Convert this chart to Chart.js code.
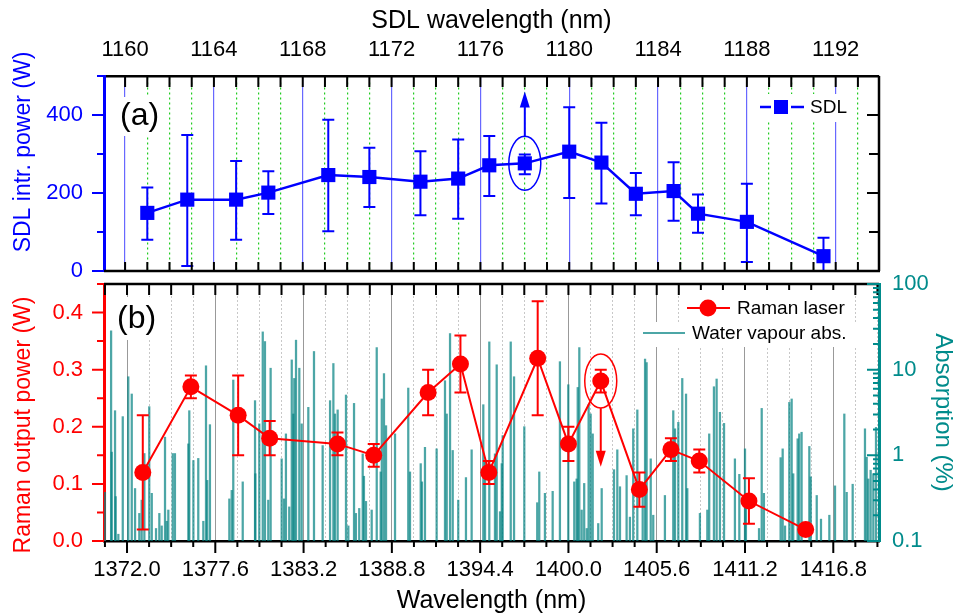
<!DOCTYPE html>
<html>
<head>
<meta charset="utf-8">
<title>SDL and Raman laser power vs wavelength</title>
<script src="https://cdn.jsdelivr.net/npm/chart.js@4.4.1/dist/chart.umd.min.js"></script>
<style>
  html, body { margin: 0; padding: 0; background: #fff; }
  #wrap { position: relative; width: 955px; height: 616px; overflow: hidden; }
  #wrap canvas { position: absolute; left: 0; }
  #sdlChart { top: 0; }
  #ramanChart { top: 250px; }
</style>
</head>
<body>
<div id="wrap">
  <canvas id="sdlChart" width="955" height="290"></canvas>
  <canvas id="ramanChart" width="955" height="366"></canvas>
</div>
<script>
// (a) SDL intracavity power vs SDL wavelength (nm, W)
const sdlWavelength = [1161.0, 1162.8, 1165.0, 1166.45, 1169.15, 1171.0, 1173.3, 1175.0, 1176.4,
                       1178.0, 1180.0, 1181.45, 1183.0, 1184.7, 1185.8, 1188.0, 1191.45];
const sdlPower   = [149, 183, 183, 201, 246, 241, 229, 237, 271, 276, 306, 278, 198, 205, 147, 126, 38];
const sdlErrHigh = [214, 349, 282, 256, 388, 316, 307, 337, 346, 299, 420, 380, 251, 279, 196, 224, 85];
const sdlErrLow  = [80, 13, 80, 146, 102, 164, 143, 134, 192, 248, 187, 173, 143, 129, 98, 23, 0];

// (b) Raman laser output power vs wavelength (nm, W)
const ramanWavelength = [1373.0, 1376.05, 1379.05, 1381.05, 1385.35, 1387.65, 1391.1, 1393.15, 1394.95,
                         1398.05, 1400.0, 1402.05, 1404.5, 1406.5, 1408.3, 1411.45, 1415.05];
const ramanPower   = [0.12, 0.27, 0.22, 0.18, 0.17, 0.15, 0.26, 0.31, 0.12, 0.32, 0.17, 0.28, 0.09, 0.16, 0.14, 0.07, 0.02];
const ramanErrHigh = [0.22, 0.29, 0.29, 0.21, 0.19, 0.17, 0.30, 0.36, 0.14, 0.42, 0.20, 0.30, 0.12, 0.18, 0.16, 0.11, 0.02];
const ramanErrLow  = [0.02, 0.25, 0.15, 0.15, 0.15, 0.13, 0.22, 0.26, 0.10, 0.22, 0.14, 0.26, 0.06, 0.14, 0.12, 0.03, 0.02];

// water vapour absorption lines (nm, %)
const waterWavelength = [
  1370.6, 1370.99, 1371.03, 1371.24, 1371.28, 1371.45, 1371.73, 1372.08, 1372.3, 1372.51, 1372.78, 1372.93,
  1373.1, 1373.41, 1373.57, 1373.84, 1374.05, 1374.2, 1374.41, 1374.52, 1374.62, 1374.9, 1375.04, 1375.89,
  1375.95, 1376.21, 1376.52, 1376.84, 1377.01, 1377.09, 1377.26, 1378.49, 1378.64, 1378.74, 1379.34, 1380.12,
  1380.14, 1380.39, 1380.61, 1380.75, 1380.96, 1381.11, 1381.81, 1381.96, 1382.08, 1382.29, 1382.45, 1382.55,
  1382.61, 1382.72, 1382.93, 1383.08, 1383.5, 1383.86, 1384.41, 1384.88, 1385.09, 1385.19, 1385.36, 1385.89,
  1386.04, 1386.4, 1386.52, 1386.73, 1386.95, 1387.03, 1387.16, 1387.52, 1387.84, 1388.09, 1388.16, 1388.3,
  1388.43, 1389.0, 1389.84, 1389.95, 1390.63, 1390.71, 1390.9, 1391.64, 1392.17, 1392.28, 1392.49, 1392.66,
  1393.01, 1393.5, 1393.86, 1394.6, 1394.71, 1394.98, 1395.34, 1395.45, 1395.66, 1395.77, 1395.83, 1396.34,
  1396.55, 1397.2, 1398.02, 1398.15, 1398.51, 1399.0, 1399.46, 1399.99, 1400.37, 1400.52, 1400.59, 1400.69,
  1400.84, 1401.0, 1401.16, 1401.28, 1401.41, 1401.54, 1401.89, 1402.11, 1402.89, 1403.1, 1403.27, 1403.69,
  1403.9, 1404.11, 1404.37, 1404.71, 1404.86, 1404.96, 1405.22, 1405.38, 1406.12, 1406.65, 1406.76, 1406.97,
  1407.22, 1407.46, 1407.54, 1408.34, 1408.81, 1408.93, 1409.23, 1409.4, 1409.61, 1409.87, 1410.56, 1410.84,
  1411.2, 1411.26, 1412.09, 1412.26, 1412.4, 1413.46, 1413.59, 1413.74, 1414.01, 1414.16, 1414.26, 1414.54,
  1414.64, 1414.79, 1415.28, 1415.37, 1415.75, 1416.02, 1416.55, 1416.91, 1417.5, 1417.65, 1418.03, 1418.81,
  1418.92, 1419.02, 1419.17, 1419.34, 1419.51
];
const waterAbs = [
  0.37, 28.4, 1.09, 3.32, 0.33, 0.12, 2.83, 8.27, 5.2, 0.41, 0.21, 0.30,
  1.05, 3.70, 0.36, 0.14, 0.21, 0.15, 1.63, 0.17, 0.23, 1.05, 1.05, 1.36,
  3.32, 0.87, 0.92, 0.17, 11.1, 0.51, 2.28, 0.31, 0.39, 7.57, 0.49, 4.35,
  0.61, 2.33, 27.6, 21.3, 0.30, 10.4, 0.91, 0.31, 1.78, 0.25, 13.0, 3.04,
  7.9, 22.1, 10.4, 2.33, 3.63, 16.3, 1.30, 4.35, 11.8, 3.04, 3.39, 5.06,
  0.15, 4.04, 0.21, 0.24, 1.04, 0.57, 0.29, 0.23, 18.1, 0.64, 4.55, 9.0,
  2.22, 1.78, 6.1, 0.64, 0.80, 0.49, 1.24, 1.19, 7.43, 3.04, 26.4, 1.14,
  0.30, 0.55, 1.16, 3.90, 0.87, 21.1, 1.04, 11.4, 0.22, 0.80, 1.70, 21.1,
  8.27, 2.16, 0.28, 0.64, 0.36, 0.38, 12.4, 6.67, 0.49, 0.53, 6.2, 18.1,
  0.23, 0.47, 0.14, 3.90, 3.04, 1.78, 0.16, 0.41, 0.68, 1.16, 0.43, 0.58,
  0.19, 2.04, 3.39, 0.34, 13.3, 12.1, 0.91, 0.20, 0.34, 3.32, 2.04, 2.43,
  7.9, 5.2, 0.41, 0.21, 0.23, 1.78, 6.32, 7.78, 3.18, 2.36, 0.91, 0.60,
  1.19, 0.36, 0.14, 3.53, 0.36, 0.94, 1.19, 0.15, 4.15, 4.55, 0.61, 1.56,
  1.78, 1.86, 1.27, 0.56, 0.34, 0.18, 0.20, 0.44, 3.04, 0.37, 0.46, 2.04,
  0.95, 0.53, 0.67, 0.61, 2.12
];

// tick labels
const sdlTickLabels = ['1160', '1164', '1168', '1172', '1176', '1180', '1184', '1188', '1192'];
const ramanTickLabels = ['1372.0', '1377.6', '1383.2', '1388.8', '1394.4', '1400.0', '1405.6', '1411.2', '1416.8'];
const sdlPowerTickLabels = ['0', '200', '400'];
const ramanPowerTickLabels = ['0.0', '0.1', '0.2', '0.3', '0.4'];
const absTickLabels = ['0.1', '1', '10', '100'];

// circled points and the values their arrows point to
const sdlMarked = { index: 9, arrowTo: 460 };
const ramanMarked = { index: 11, arrowTo: 0.13 };

const BLUE = '#0000ff';
const RED = '#ff0000';
const TEAL = '#008b8b';
const WATER = 'rgba(0,128,128,0.7)';
const FONT = "'Liberation Sans', Arial, sans-serif";

Chart.defaults.font.family = FONT;
Chart.defaults.color = '#000';
Chart.defaults.animation = false;

// minor tick positions (every 1 nm on top, every 1.4 nm on bottom)
const sdlXTicks = [];
for (let v = 1160; v <= 1193; v++) sdlXTicks.push(v);
const ramanXTicks = [];
for (let i = 0; i <= 35; i++) ramanXTicks.push(+(1370.6 + 1.4 * i).toFixed(1));
const sdlYTicks = [0, 100, 200, 300, 400, 500];
const ramanYTicks = [];
for (let i = 0; i <= 9; i++) ramanYTicks.push(+(0.05 * i).toFixed(2));
const absTicks = [];
[0.1, 1, 10].forEach(d => { for (let m = 1; m <= 9; m++) absTicks.push(+(m * d).toPrecision(3)); });
absTicks.push(100);

function findLabel(labels, value) {
    return labels.find(l => Math.abs(parseFloat(l) - value) < 1e-6);
}
function isMajor(labels) {
    return v => findLabel(labels, v) !== undefined;
}
function labelCallback(labels) {
    return value => findLabel(labels, value) || '';
}
function setTicks(values) {
    return scale => { scale.ticks = values.map(v => ({ value: v })); };
}
function fixSize(size) {
    return scale => {
        if (scale.isHorizontal()) scale.height = size; else scale.width = size;
        scale.paddingLeft = scale.paddingRight = scale.paddingTop = scale.paddingBottom = 0;
    };
}

/**
 * Draws tick marks along an edge of the plot area
 */
function drawTickMarks(ctx, scale, values, edge, dir, lenMajor, lenMinor, major, color) {
    ctx.save();
    ctx.strokeStyle = color;
    ctx.lineWidth = 2;
    ctx.beginPath();
    values.forEach(v => {
        const p = scale.getPixelForValue(v);
        const len = major(v) ? lenMajor : lenMinor;
        if (scale.isHorizontal()) {
            ctx.moveTo(p, edge);
            ctx.lineTo(p, edge + dir * len);
        } else {
            ctx.moveTo(edge, p);
            ctx.lineTo(edge + dir * len, p);
        }
    });
    ctx.stroke();
    ctx.restore();
}

function drawLine(ctx, x1, y1, x2, y2, color, width) {
    ctx.save();
    ctx.strokeStyle = color;
    ctx.lineWidth = width;
    ctx.beginPath();
    ctx.moveTo(x1, y1);
    ctx.lineTo(x2, y2);
    ctx.stroke();
    ctx.restore();
}

function whiteBox(ctx, x, y, w, h) {
    ctx.save();
    ctx.fillStyle = '#fff';
    ctx.fillRect(x, y, w, h);
    ctx.restore();
}

function drawText(ctx, text, x, y, size, color) {
    ctx.save();
    ctx.font = size + 'px ' + FONT;
    ctx.fillStyle = color;
    ctx.textAlign = 'left';
    ctx.textBaseline = 'middle';
    ctx.fillText(text, x, y);
    ctx.restore();
}

// axis title turned to read bottom-to-top
function drawYTitle(ctx, text, x, y, size, color) {
    ctx.save();
    ctx.translate(x, y);
    ctx.rotate(-Math.PI / 2);
    ctx.font = size + 'px ' + FONT;
    ctx.fillStyle = color;
    ctx.textAlign = 'center';
    ctx.textBaseline = 'middle';
    ctx.fillText(text, 0, 0);
    ctx.restore();
}

/**
 * Ellipse round a marked point plus an arrow to a value on the y scale
 */
function drawMarker(ctx, chart, marked, color) {
    const pt = chart.getDatasetMeta(0).data[marked.index];
    const yScale = chart.scales.y;
    const rx = 16, ry = 27;
    ctx.save();
    ctx.strokeStyle = color;
    ctx.fillStyle = color;
    ctx.lineWidth = 1.5;
    ctx.beginPath();
    ctx.ellipse(pt.x, pt.y, rx, ry, 0, 0, Math.PI * 2);
    ctx.stroke();
    const yTip = yScale.getPixelForValue(marked.arrowTo);
    const dir = yTip < pt.y ? -1 : 1;
    const yStart = pt.y + dir * ry;
    ctx.lineWidth = 2;
    ctx.beginPath();
    ctx.moveTo(pt.x, yStart);
    ctx.lineTo(pt.x, yTip - dir * 10);
    ctx.stroke();
    ctx.beginPath();
    ctx.moveTo(pt.x, yTip);
    ctx.lineTo(pt.x - 5, yTip - dir * 16);
    ctx.lineTo(pt.x + 5, yTip - dir * 16);
    ctx.closePath();
    ctx.fill();
    ctx.restore();
}

function errorBarsPlugin(low, high, color, datasetIndex) {
    return {
        id: 'errorBars',
        beforeDatasetDraw(chart, args) {
            if (args.index !== datasetIndex) return;
            const meta = chart.getDatasetMeta(datasetIndex);
            const yScale = chart.scales[meta.yAxisID];
            const ctx = chart.ctx;
            ctx.save();
            ctx.strokeStyle = color;
            ctx.lineWidth = 2;
            ctx.beginPath();
            meta.data.forEach((pt, i) => {
                const yl = yScale.getPixelForValue(low[i]);
                const yh = yScale.getPixelForValue(high[i]);
                if (Math.abs(yh - yl) < 1) return;
                ctx.moveTo(pt.x, yl);
                ctx.lineTo(pt.x, yh);
                ctx.moveTo(pt.x - 6, yl);
                ctx.lineTo(pt.x + 6, yl);
                ctx.moveTo(pt.x - 6, yh);
                ctx.lineTo(pt.x + 6, yh);
            });
            ctx.stroke();
            ctx.restore();
        }
    };
}

const sdlDecor = {
    id: 'sdlDecor',
    afterDraw(chart) {
        const { ctx, chartArea: a, scales } = chart;
        // frame
        drawLine(ctx, a.right, a.top, a.right, a.bottom, '#000', 2.5);
        drawLine(ctx, a.left, a.bottom, a.right + 1, a.bottom, '#000', 2.5);
        // ticks
        drawTickMarks(ctx, scales.x, sdlXTicks, a.top, 1, 11, 11, isMajor(sdlTickLabels), '#000');
        drawTickMarks(ctx, scales.x, sdlXTicks, a.bottom, -1, 9, 9, isMajor(sdlTickLabels), '#000');
        drawTickMarks(ctx, scales.y, sdlYTicks, a.left, -1, 12, 7, isMajor(sdlPowerTickLabels), BLUE);
        drawTickMarks(ctx, scales.y, sdlYTicks, a.right, -1, 12, 10, isMajor(sdlPowerTickLabels), '#000');
        drawYTitle(ctx, 'SDL intr. power (W)', 24, a.top + 76, 23, BLUE);
        // panel label
        whiteBox(ctx, a.left + 11, a.top + 21, 47, 39);
        drawText(ctx, '(a)', a.left + 16, a.top + 40, 32, '#000');
        // legend
        const ly = a.top + 31;
        whiteBox(ctx, a.right - 124, a.top + 18, 97, 28);
        drawLine(ctx, a.right - 119, ly, a.right - 108, ly, BLUE, 2.5);
        drawLine(ctx, a.right - 88, ly, a.right - 75, ly, BLUE, 2.5);
        ctx.save();
        ctx.fillStyle = BLUE;
        ctx.fillRect(a.right - 105, ly - 7, 14, 14);
        ctx.restore();
        drawText(ctx, 'SDL', a.right - 69, ly + 1, 19, '#000');
        drawMarker(ctx, chart, sdlMarked, BLUE);
    }
};

const ramanDecor = {
    id: 'ramanDecor',
    afterDraw(chart) {
        const { ctx, chartArea: a, scales } = chart;
        drawLine(ctx, a.left, a.top, a.right, a.top, '#000', 2.5);
        drawTickMarks(ctx, scales.x, ramanXTicks, a.top, 1, 11, 11, isMajor(ramanTickLabels), '#000');
        drawTickMarks(ctx, scales.x, ramanXTicks, a.bottom, 1, 12, 6, isMajor(ramanTickLabels), '#000');
        drawTickMarks(ctx, scales.y, ramanYTicks, a.left, -1, 12, 7, isMajor(ramanPowerTickLabels), RED);
        drawTickMarks(ctx, scales.yAbs, absTicks, a.right, -1, 12, 6, isMajor(absTickLabels), TEAL);
        drawYTitle(ctx, 'Raman output power (W)', 24, a.top + 141, 23, RED);
        // panel label
        whiteBox(ctx, a.left + 9, a.top + 13, 47, 43);
        drawText(ctx, '(b)', a.left + 13, a.top + 35, 32, '#000');
        // legend
        whiteBox(ctx, a.right - 197, a.top + 6, 172, 33);
        whiteBox(ctx, a.right - 241, a.top + 38, 223, 25);
        const y1 = a.top + 24, y2 = a.top + 49;
        drawLine(ctx, a.right - 192, y1, a.right - 149, y1, RED, 2);
        ctx.save();
        ctx.fillStyle = RED;
        ctx.beginPath();
        ctx.arc(a.right - 171, y1, 8.5, 0, Math.PI * 2);
        ctx.fill();
        ctx.restore();
        drawText(ctx, 'Raman laser', a.right - 142, y1 + 1, 19, '#000');
        drawLine(ctx, a.right - 236, y2, a.right - 194, y2, WATER, 2);
        drawText(ctx, 'Water vapour abs.', a.right - 187, y2 + 1, 19, '#000');
        drawMarker(ctx, chart, ramanMarked, RED);
    }
};

// top panel
new Chart(document.getElementById('sdlChart'), {
    type: 'line',
    data: {
        datasets: [{
            label: 'SDL',
            data: sdlWavelength.map((w, i) => ({ x: w, y: sdlPower[i] })),
            borderColor: BLUE,
            backgroundColor: BLUE,
            borderWidth: 2.5,
            pointStyle: 'rect',
            pointRadius: 10,
            pointBorderWidth: 0,
            tension: 0
        }]
    },
    options: {
        responsive: false,
        layout: { padding: { left: 0, top: 0, right: 76, bottom: 19 } },
        plugins: { legend: { display: false }, tooltip: { enabled: false } },
        scales: {
            x: {
                type: 'linear',
                position: 'top',
                min: 1159.05,
                max: 1193.95,
                afterBuildTicks: setTicks(sdlXTicks),
                afterFit: fixSize(76),
                ticks: {
                    autoSkip: false,
                    maxRotation: 0,
                    padding: 13,
                    font: { size: 22 },
                    callback: labelCallback(sdlTickLabels)
                },
                grid: {
                    drawTicks: false,
                    lineWidth: 1.2,
                    color: ctx => isMajor(sdlTickLabels)(ctx.tick.value) ? 'rgba(40,40,255,0.7)' : '#22cc22'
                },
                border: {
                    color: '#000',
                    width: 2.5,
                    dash: ctx => (ctx.tick && !isMajor(sdlTickLabels)(ctx.tick.value)) ? [2, 3] : []
                },
                title: {
                    display: true,
                    text: 'SDL wavelength (nm)',
                    font: { size: 25 },
                    padding: { top: 6, bottom: 0 }
                }
            },
            y: {
                min: 0,
                max: 500,
                afterBuildTicks: setTicks(sdlYTicks),
                afterFit: fixSize(104),
                ticks: {
                    autoSkip: false,
                    color: BLUE,
                    padding: 21,
                    font: { size: 22 },
                    callback: labelCallback(sdlPowerTickLabels)
                },
                grid: { display: false, drawTicks: false },
                border: { color: BLUE, width: 3 },
                title: { display: false }
            }
        }
    },
    plugins: [errorBarsPlugin(sdlErrLow, sdlErrHigh, BLUE, 0), sdlDecor]
});

// bottom panel
new Chart(document.getElementById('ramanChart'), {
    type: 'line',
    data: {
        datasets: [{
            type: 'line',
            label: 'Raman laser',
            data: ramanWavelength.map((w, i) => ({ x: w, y: ramanPower[i] })),
            yAxisID: 'y',
            borderColor: RED,
            backgroundColor: RED,
            borderWidth: 2,
            pointStyle: 'circle',
            pointRadius: 8.5,
            pointBorderWidth: 0,
            tension: 0,
            order: 0
        }, {
            type: 'bar',
            label: 'Water vapour abs.',
            data: waterWavelength.map((w, i) => ({ x: w, y: waterAbs[i] })),
            yAxisID: 'yAbs',
            backgroundColor: WATER,
            barThickness: 1.6,
            grouped: false,
            order: 1
        }]
    },
    options: {
        responsive: false,
        layout: { padding: { left: 0, top: 34, right: 0, bottom: 0 } },
        plugins: { legend: { display: false }, tooltip: { enabled: false } },
        scales: {
            x: {
                type: 'linear',
                position: 'bottom',
                min: 1370.54,
                max: 1419.7,
                offset: false,
                afterBuildTicks: setTicks(ramanXTicks),
                afterFit: fixSize(75),
                ticks: {
                    autoSkip: false,
                    maxRotation: 0,
                    padding: 16,
                    font: { size: 22 },
                    callback: labelCallback(ramanTickLabels)
                },
                grid: {
                    offset: false,
                    drawTicks: false,
                    lineWidth: 1,
                    color: ctx => isMajor(ramanTickLabels)(ctx.tick.value) ? '#999' : '#c8c8c8'
                },
                border: {
                    color: '#000',
                    width: 2.5,
                    dash: ctx => (ctx.tick && !isMajor(ramanTickLabels)(ctx.tick.value)) ? [2, 2] : []
                },
                title: {
                    display: true,
                    text: 'Wavelength (nm)',
                    font: { size: 25 },
                    padding: { top: 0, bottom: 0 }
                }
            },
            y: {
                position: 'left',
                min: 0,
                max: 0.45,
                afterBuildTicks: setTicks(ramanYTicks),
                afterFit: fixSize(104),
                ticks: {
                    autoSkip: false,
                    color: RED,
                    padding: 21,
                    font: { size: 22 },
                    callback: labelCallback(ramanPowerTickLabels)
                },
                grid: { display: false, drawTicks: false },
                border: { color: RED, width: 3 },
                title: { display: false }
            },
            yAbs: {
                type: 'logarithmic',
                position: 'right',
                min: 0.1,
                max: 100,
                afterBuildTicks: setTicks(absTicks),
                afterFit: fixSize(76),
                ticks: {
                    autoSkip: false,
                    color: TEAL,
                    padding: 13,
                    font: { size: 22 },
                    callback: labelCallback(absTickLabels)
                },
                grid: { display: false, drawTicks: false },
                border: { color: TEAL, width: 3 },
                title: {
                    display: true,
                    text: 'Absorption (%)',
                    color: TEAL,
                    font: { size: 24, lineHeight: 1 },
                    padding: { top: 0, bottom: 0 }
                }
            }
        }
    },
    plugins: [errorBarsPlugin(ramanErrLow, ramanErrHigh, RED, 0), ramanDecor]
});
</script>
</body>
</html>
